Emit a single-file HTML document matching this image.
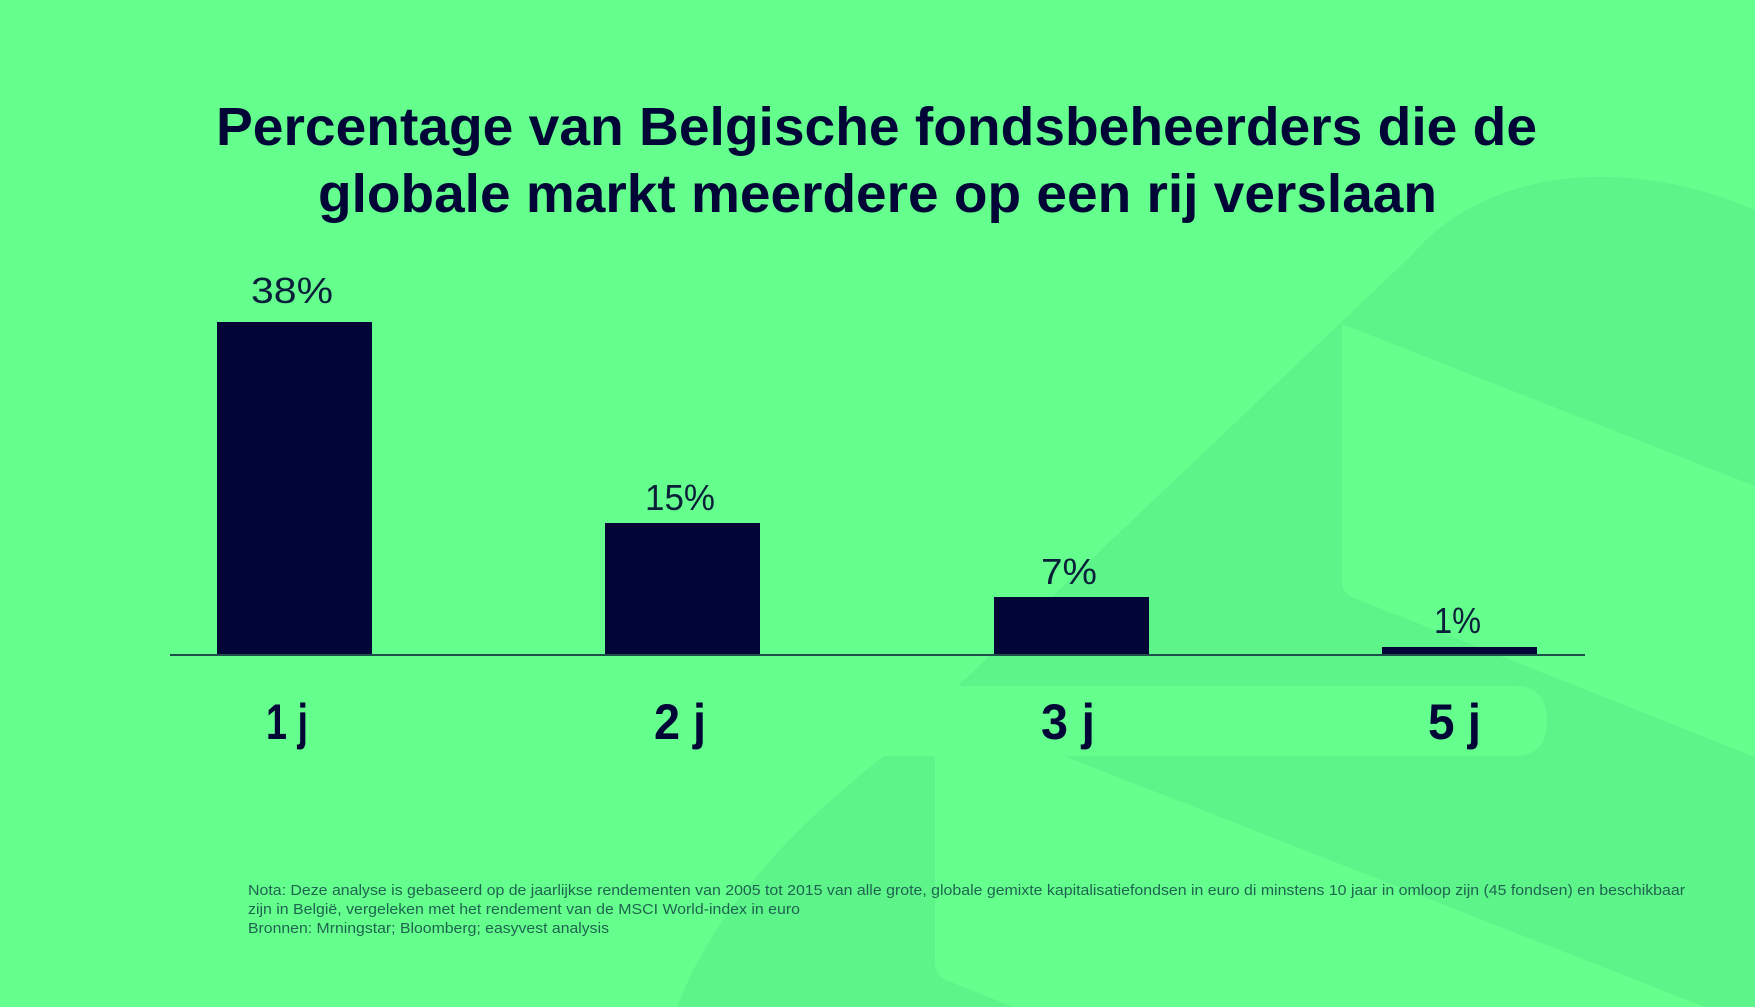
<!DOCTYPE html>
<html>
<head>
<meta charset="utf-8">
<style>
  html, body { margin: 0; padding: 0; }
  body { width: 1755px; height: 1007px; overflow: hidden; background: #64ff8c; }
  svg { display: block; }
  text { font-family: "Liberation Sans", Arial, sans-serif; }
</style>
</head>
<body>
<svg width="1755" height="1007" viewBox="0 0 1755 1007" xmlns="http://www.w3.org/2000/svg">
  <rect x="0" y="0" width="1755" height="1007" fill="#64ff8c"/>

  <!-- background logo shape (darker) -->
  <path d="M 677,1007 Q 725,880 884,756 L 1412,255 C 1482,172 1620,152 1755,210 L 1755,1007 Z" fill="#5df48a"/>
  <!-- light cuts -->
  <path d="M 1342,324 L 1755,486 L 1755,757 L 1354,598 Q 1342,593 1342,582 Z" fill="#64ff8c"/>
  <path d="M 850,686 L 1515,686 Q 1547,686 1547,721 Q 1547,756 1515,756 L 850,756 Z" fill="#64ff8c"/>
  <path d="M 935,750 L 1064,756 L 1705,1007 L 1013,1007 L 946,980 Q 935,975 935,964 Z" fill="#64ff8c"/>

  <!-- title -->
  <text x="216" y="145" font-size="54" font-weight="bold" fill="#010636" textLength="1321" lengthAdjust="spacingAndGlyphs">Percentage van Belgische fondsbeheerders die de</text>
  <text x="318" y="212" font-size="54" font-weight="bold" fill="#010636" textLength="1119" lengthAdjust="spacingAndGlyphs">globale markt meerdere op een rij verslaan</text>

  <!-- bars -->
  <rect x="217" y="322" width="155" height="333" fill="#010636"/>
  <rect x="605" y="523" width="155" height="132" fill="#010636"/>
  <rect x="994" y="597" width="155" height="58" fill="#010636"/>
  <rect x="1382" y="647" width="155" height="8" fill="#010636"/>

  <!-- axis -->
  <rect x="170" y="654" width="1415" height="2" fill="#1f4f4c"/>

  <!-- value labels -->
  <text x="251" y="303" font-size="36" fill="#0a1f3a" textLength="82" lengthAdjust="spacingAndGlyphs">38%</text>
  <text x="645" y="510" font-size="36" fill="#0a1f3a" textLength="70" lengthAdjust="spacingAndGlyphs">15%</text>
  <text x="1041" y="584" font-size="36" fill="#0a1f3a" textLength="56" lengthAdjust="spacingAndGlyphs">7%</text>
  <text x="1434" y="633" font-size="36" fill="#0a1f3a" textLength="47" lengthAdjust="spacingAndGlyphs">1%</text>

  <!-- category labels -->
  <text x="266" y="739" font-size="50" font-weight="bold" fill="#010636" textLength="42" lengthAdjust="spacingAndGlyphs">1 j</text>
  <text x="654" y="739" font-size="50" font-weight="bold" fill="#010636" textLength="52" lengthAdjust="spacingAndGlyphs">2 j</text>
  <text x="1041" y="739" font-size="50" font-weight="bold" fill="#010636" textLength="54" lengthAdjust="spacingAndGlyphs">3 j</text>
  <text x="1428" y="739" font-size="50" font-weight="bold" fill="#010636" textLength="53" lengthAdjust="spacingAndGlyphs">5 j</text>

  <!-- footnote -->
  <text x="248" y="895" font-size="15" fill="#1f6450" textLength="1437" lengthAdjust="spacingAndGlyphs">Nota: Deze analyse is gebaseerd op de jaarlijkse rendementen van 2005 tot 2015 van alle grote, globale gemixte kapitalisatiefondsen in euro di minstens 10 jaar in omloop zijn (45 fondsen) en beschikbaar</text>
  <text x="248" y="914" font-size="15" fill="#1f6450" textLength="552" lengthAdjust="spacingAndGlyphs">zijn in België, vergeleken met het rendement van de MSCI World-index in euro</text>
  <text x="248" y="933" font-size="15" fill="#1f6450" textLength="361" lengthAdjust="spacingAndGlyphs">Bronnen: Mrningstar; Bloomberg; easyvest analysis</text>
</svg>
</body>
</html>
